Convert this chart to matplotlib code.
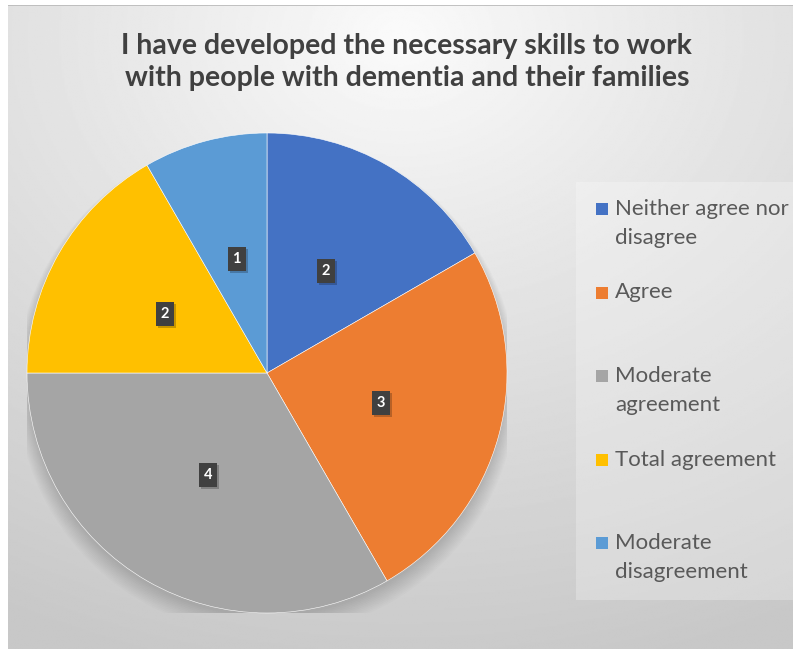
import numpy as np
import matplotlib.pyplot as plt
from matplotlib.patches import Rectangle, Circle

plt.rcParams['font.family'] = ['Lato', 'DejaVu Sans']

title = 'I have developed the necessary skills to work\nwith people with dementia and their families'
labels = ['Neither agree nor\ndisagree', 'Agree', 'Moderate\nagreement',
          'Total agreement', 'Moderate\ndisagreement']
values = [2, 3, 4, 2, 1]
colors = ['#4472C4', '#ED7D31', '#A5A5A5', '#FFC000', '#5B9BD5']

W, H = 793, 649
fig = plt.figure(figsize=(W / 100, H / 100), dpi=100)
fig.patch.set_facecolor('white')

# radial grey background of the chart area
bg = fig.add_axes([8 / W, 0, 1 - 8 / W, 1 - 5 / H])
yy, xx = np.mgrid[0:400, 0:500]
cx, cy = 250, 20
d = np.sqrt(((xx - cx) / 500) ** 2 + ((yy - cy) / 380) ** 2)
d = np.clip(d / 1.05, 0, 1)
shade = 0.985 - 0.2 * d ** 0.9
bg.imshow(shade, cmap='gray', vmin=0, vmax=1, aspect='auto',
          extent=[0, 1, 0, 1], origin='upper')
bg.plot([0, 1], [1, 1], color='#b8b8b8', lw=1.2)
bg.set_xlim(0, 1)
bg.set_ylim(0, 1)
bg.axis('off')

fig.text(0.513, 1 - 62 / H, title, ha='center', va='center', fontsize=20.5,
         fontweight='bold', color='#404040', linespacing=1.32)

# pie
r = 240
ax = fig.add_axes([(267 - r) / W, (H - 373 - r) / H, 2 * r / W, 2 * r / H])
for k in range(12):
    ax.add_patch(Circle((0.0, -0.015 - 0.003 * k), 1.0 + 0.004 * k,
                        color='black', alpha=0.01, lw=0, zorder=0))
wedges, texts = ax.pie(values, colors=colors, startangle=90, counterclock=False,
                       labels=[str(v) for v in values], labeldistance=0.49,
                       wedgeprops=dict(edgecolor='white', linewidth=0.4))
px = 1 / r
for t in texts:
    x, y = t.get_position()
    # soft drop shadow under each data label box
    ax.add_patch(Rectangle((x - 9 * px + 2 * px, y - 12 * px - 2 * px), 18 * px, 24 * px,
                           fc='black', alpha=0.22, ec='none', zorder=3))
    ax.add_patch(Rectangle((x - 9 * px, y - 12 * px), 18 * px, 24 * px,
                           fc='#404040', ec='none', zorder=4))
    t.set_color('white')
    t.set_fontsize(10.5)
    t.set_fontweight('bold')
    t.set_ha('center')
    t.set_va('center')
    t.set_zorder(5)
ax.set_xlim(-1, 1)
ax.set_ylim(-1, 1)
ax.axis('off')

# legend panel
lg = fig.add_axes([0, 0, 1, 1], facecolor='none')
lg.set_xlim(0, W)
lg.set_ylim(H, 0)
lg.axis('off')
lg.add_patch(Rectangle((576, 182), W - 576, 418, fc='white', alpha=0.25, ec='none'))
for i, (lab, c) in enumerate(zip(labels, colors)):
    top = 209 + i * 83.5
    lg.add_patch(Rectangle((596, top - 6), 12, 12, fc=c, ec='none'))
    for j, line in enumerate(lab.split('\n')):
        lg.text(615, top + j * 29, line, ha='left', va='center', fontsize=16,
                color='#595959')

fig.savefig('out.png', dpi=100)
